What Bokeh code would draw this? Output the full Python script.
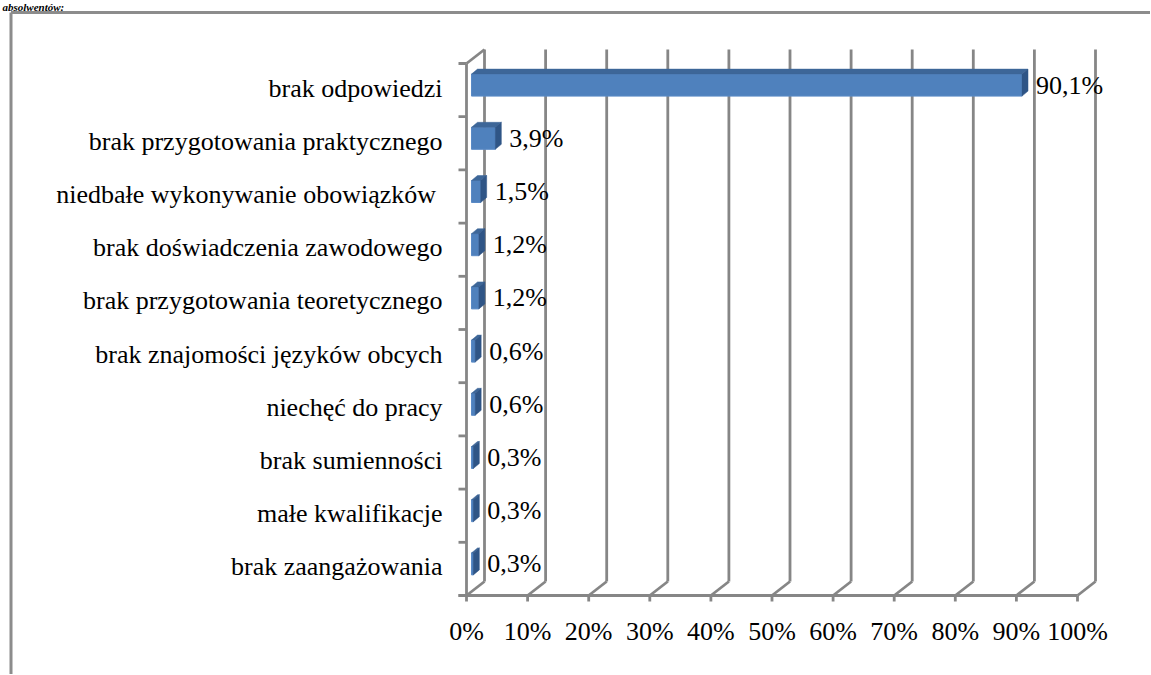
from bokeh.plotting import figure
from bokeh.models import Range1d, ColumnDataSource
from bokeh.core.properties import value
from bokeh.embed import file_html
from bokeh.resources import INLINE

# ---- data (bottom to top) ----
categories = [
    "brak zaangażowania",
    "małe kwalifikacje",
    "brak sumienności",
    "niechęć do pracy",
    "brak znajomości języków obcych",
    "brak przygotowania teoretycznego",
    "brak doświadczenia zawodowego",
    "niedbałe wykonywanie obowiązków ",
    "brak przygotowania praktycznego",
    "brak odpowiedzi",
]
values = [0.3, 0.3, 0.3, 0.6, 0.6, 1.2, 1.2, 1.5, 3.9, 90.1]
tick_values = [0, 10, 20, 30, 40, 50, 60, 70, 80, 90, 100]
tick_labels = ["0%", "10%", "20%", "30%", "40%", "50%", "60%", "70%", "80%", "90%", "100%"]
heading = "absolwentów:"

# ---- layout constants (pixels) ----
W, H = 1150, 674
X0, Y0 = 466, 595      # canvas position of 0% / floor
PX, PY = 6.11, 53.2    # pixels per data unit


def dx(px):
    return px / PX


def dy(px):
    return px / PY


FONT = value("Liberation Serif")
GRID = "#868686"
LW = 2.8
DXD, DYD = dx(18), dy(14)   # 3D depth
n = len(categories)

p = figure(width=W, height=H,
           x_range=Range1d(-X0 / PX, (W - X0) / PX),
           y_range=Range1d((Y0 - H) / PY, Y0 / PY),
           x_axis_type=None, y_axis_type=None, title=None,
           toolbar_location=None, output_backend="svg", min_border=0)
p.outline_line_color = None
p.background_fill_color = "white"
p.border_fill_color = "white"

# heading fragment above the frame (kept small so it fits above the border)
p.text(x=[dx(2 - X0)], y=[dy(Y0 - 0.5)], text=[heading], text_font=FONT,
       text_font_size="11px", text_font_style="bold italic", text_color="black",
       text_align="left", text_baseline="top")

# outer frame (document border)
left_x = dx(10.5 - X0)
top_y = dy(Y0 - 12)
p.segment(x0=[left_x, left_x], y0=[top_y, top_y], x1=[left_x, dx(W - X0 + 5)],
          y1=[dy(Y0 - H - 5), top_y], line_color="#8C8C8C", line_width=3)

# back wall gridlines
p.segment(x0=[t + DXD for t in tick_values], y0=[DYD] * len(tick_values),
          x1=[t + DXD for t in tick_values], y1=[n + DYD] * len(tick_values),
          line_color=GRID, line_width=LW)
# floor diagonals
p.segment(x0=tick_values, y0=[0] * len(tick_values),
          x1=[t + DXD for t in tick_values], y1=[DYD] * len(tick_values),
          line_color=GRID, line_width=LW)
# top-left diagonal
p.segment(x0=[0], y0=[n], x1=[DXD], y1=[n + DYD], line_color=GRID, line_width=LW)
# front axes
p.segment(x0=[dx(-8), 0], y0=[0, 0], x1=[tick_values[-1], 0], y1=[0, n],
          line_color=GRID, line_width=LW)
# x ticks
p.segment(x0=tick_values, y0=[0] * len(tick_values), x1=tick_values,
          y1=[dy(-6)] * len(tick_values), line_color=GRID, line_width=LW)
# y ticks
p.segment(x0=[dx(-8)] * (n + 1), y0=list(range(n + 1)), x1=[0] * (n + 1),
          y1=list(range(n + 1)), line_color=GRID, line_width=LW)

# ---- bars ----
ox = dx(5)
hh = dy(11)
bdx, bdy = dx(6), dy(5)
centers = [i + 0.5 + dy(5) for i in range(n)]

front = ColumnDataSource(dict(
    left=[ox] * n, right=[ox + v for v in values],
    bottom=[c - hh for c in centers], top=[c + hh for c in centers]))
p.quad(left="left", right="right", bottom="bottom", top="top", source=front,
       fill_color="#4F81BD", line_color="#5A8AC6", line_width=1)

top_xs = [[ox, ox + v, ox + v + bdx, ox + bdx] for v in values]
top_ys = [[c + hh, c + hh, c + hh + bdy, c + hh + bdy] for c in centers]
p.patches(xs=top_xs, ys=top_ys, fill_color="#3D6698", line_color="#3D6698", line_width=0.5)

side_xs = [[ox + v, ox + v + bdx, ox + v + bdx, ox + v] for v in values]
side_ys = [[c - hh, c - hh + bdy, c + hh + bdy, c + hh] for c in centers]
p.patches(xs=side_xs, ys=side_ys, fill_color="#2F5586", line_color="#2F5586", line_width=0.5)

# ---- texts ----
value_labels = [("%.1f" % v).replace(".", ",") + "%" for v in values]
p.text(x=[ox + v + bdx + dx(8) for v in values], y=centers, text=value_labels,
       text_font=FONT, text_font_size="26px", text_color="black",
       text_align="left", text_baseline="middle")

p.text(x=[dx(-24)] * n, y=[i + 0.5 + dy(2) for i in range(n)], text=categories,
       text_font=FONT, text_font_size="26px", text_color="black",
       text_align="right", text_baseline="middle")

p.text(x=tick_values, y=[dy(-36)] * len(tick_values), text=tick_labels,
       text_font=FONT, text_font_size="26px", text_color="black",
       text_align="center", text_baseline="middle")

open("out.html", "w").write(file_html(p, INLINE))
